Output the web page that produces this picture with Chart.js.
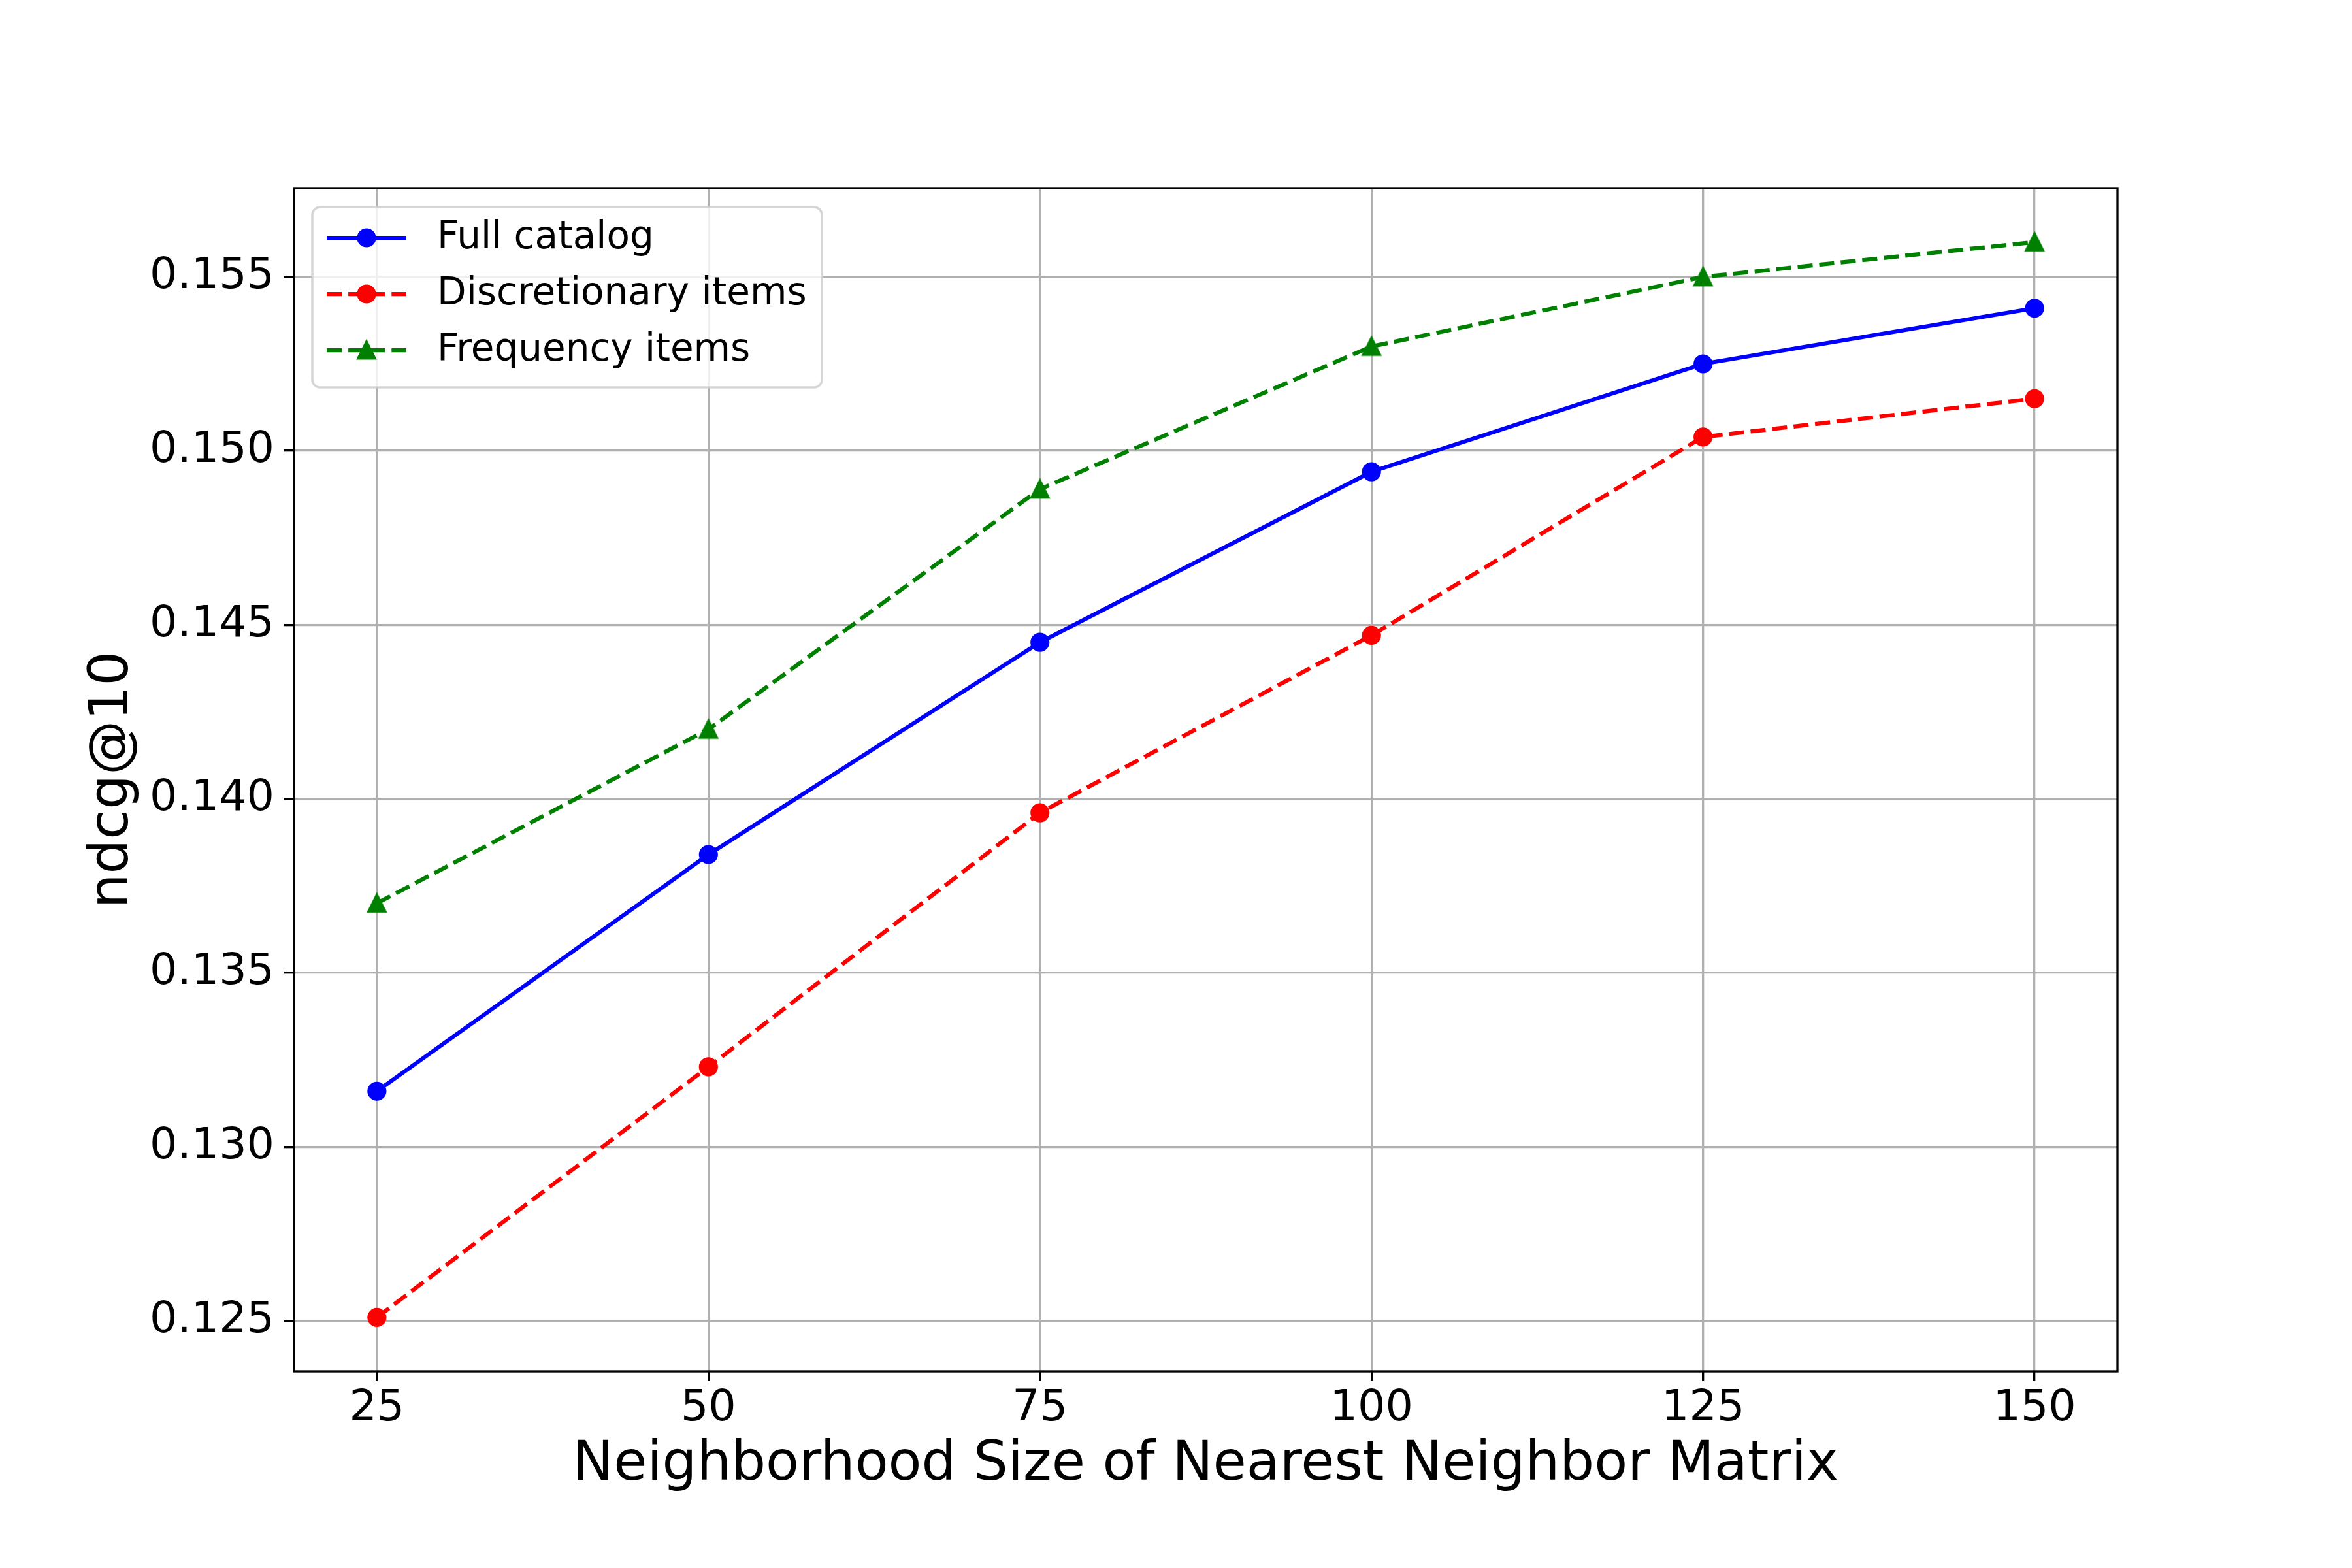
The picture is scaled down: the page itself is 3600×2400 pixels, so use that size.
<!DOCTYPE html>
<html>
<head>
<meta charset="utf-8">
<script src="https://cdn.jsdelivr.net/npm/chart.js@4"></script>
<style>
  html, body { margin: 0; padding: 0; background: #fff; }
  canvas { display: block; }
</style>
</head>
<body>
<canvas id="ndcg-chart" width="3600" height="2400"></canvas>
<script>
const sizes = [25, 50, 75, 100, 125, 150];
const fullCatalog = [0.1316, 0.1384, 0.1445, 0.1494, 0.1525, 0.1541];
const discretionary = [0.1251, 0.1323, 0.1396, 0.1447, 0.1504, 0.1515];
const frequency = [0.1370, 0.1420, 0.1489, 0.1530, 0.1550, 0.1560];
const seriesLabels = ['Full catalog', 'Discretionary items', 'Frequency items'];
const xTicks = [25, 50, 75, 100, 125, 150];
const yTicks = [0.125, 0.130, 0.135, 0.140, 0.145, 0.150, 0.155];

const FONT = 'DejaVu Sans';
const LW = 6.25;          // 1.5pt at 300 dpi
const THIN = 3.33;        // 0.8pt
const DASH = [23.1, 10];  // matplotlib '--' scaled by linewidth

const toPoints = (ys) => sizes.map((x, i) => ({x: x, y: ys[i]}));

// matplotlib style '^' marker, drawn once on a small canvas
const makeTriangle = (color) => {
    const c = document.createElement('canvas');
    c.width = 40;
    c.height = 40;
    const g = c.getContext('2d');
    g.fillStyle = color;
    g.strokeStyle = color;
    g.lineWidth = 4.17;
    g.lineJoin = 'miter';
    g.beginPath();
    g.moveTo(20, 7.5);
    g.lineTo(7.5, 32.5);
    g.lineTo(32.5, 32.5);
    g.closePath();
    g.fill();
    g.stroke();
    return c;
};

const greenTriangle = makeTriangle('#008000');

const series = (label, ys, color, dash, pointStyle, order) => ({
    label: label,
    data: toPoints(ys),
    borderColor: color,
    backgroundColor: color,
    borderWidth: LW,
    borderDash: dash,
    pointStyle: pointStyle,
    pointRadius: 12.5,
    pointBorderWidth: 4.17,
    pointBackgroundColor: color,
    pointBorderColor: color,
    tension: 0,
    fill: false,
    order: order
});

const spinesPlugin = {
    id: 'spines',
    afterDatasetsDraw(chart) {
        const {ctx, chartArea: a} = chart;
        ctx.save();
        ctx.strokeStyle = '#000';
        ctx.lineWidth = THIN;
        ctx.strokeRect(a.left, a.top, a.right - a.left, a.bottom - a.top);
        ctx.restore();
    }
};

const legendPlugin = {
    id: 'mplLegend',
    afterDraw(chart) {
        const ctx = chart.ctx;
        const a = chart.chartArea;
        const box = {x: a.left + 28, y: a.top + 29, w: 780, h: 276};
        ctx.save();
        ctx.globalAlpha = 0.8;
        ctx.fillStyle = '#ffffff';
        ctx.strokeStyle = '#cccccc';
        ctx.lineWidth = 3.5;
        ctx.beginPath();
        ctx.roundRect(box.x, box.y, box.w, box.h, 12);
        ctx.fill();
        ctx.stroke();
        ctx.globalAlpha = 1;

        chart.data.datasets.forEach((ds, i) => {
            const cy = box.y + 47 + i * 86;
            const x0 = box.x + 22;
            const x1 = x0 + 122;
            ctx.strokeStyle = ds.borderColor;
            ctx.lineWidth = ds.borderWidth;
            ctx.setLineDash(ds.borderDash || []);
            ctx.beginPath();
            ctx.moveTo(x0, cy);
            ctx.lineTo(x1, cy);
            ctx.stroke();
            ctx.setLineDash([]);
            const mx = (x0 + x1) / 2;
            if (ds.pointStyle === 'circle') {
                ctx.fillStyle = ds.borderColor;
                ctx.beginPath();
                ctx.arc(mx, cy, ds.pointRadius + ds.pointBorderWidth / 2, 0, Math.PI * 2);
                ctx.fill();
            } else {
                const img = ds.pointStyle;
                ctx.drawImage(img, mx - img.width / 2, cy - img.height / 2);
            }
            ctx.fillStyle = '#000';
            ctx.font = '58px "' + FONT + '"';
            ctx.textAlign = 'left';
            ctx.textBaseline = 'middle';
            ctx.fillText(ds.label, x1 + 47, cy + 1);
        });
        ctx.restore();
    }
};

const config = {
    type: 'line',
    data: {
        datasets: [
            series(seriesLabels[0], fullCatalog, '#0000ff', [], 'circle', 2),
            series(seriesLabels[1], discretionary, '#ff0000', DASH, 'circle', 1),
            series(seriesLabels[2], frequency, '#008000', DASH, greenTriangle, 0)
        ]
    },
    options: {
        responsive: false,
        animation: false,
        devicePixelRatio: 1,
        layout: {
            padding: {left: 0, top: 288, right: 359, bottom: 0}
        },
        plugins: {
            legend: {display: false},
            tooltip: {enabled: false}
        },
        scales: {
            x: {
                type: 'linear',
                min: 18.75,
                max: 156.25,
                afterBuildTicks: (scale) => {
                    scale.ticks = xTicks.map(v => ({value: v}));
                },
                afterFit: (scale) => {
                    scale.height = 301;
                },
                grid: {
                    color: '#b0b0b0',
                    lineWidth: THIN,
                    drawTicks: true,
                    tickLength: 15,
                    tickColor: '#000',
                    tickWidth: THIN
                },
                border: {display: false},
                ticks: {
                    color: '#000',
                    padding: 9,
                    maxRotation: 0,
                    autoSkip: false,
                    font: {family: FONT, size: 66.7, lineHeight: 1},
                    callback: (v) => String(v)
                },
                title: {
                    display: true,
                    text: 'Neighborhood Size of Nearest Neighbor Matrix',
                    color: '#000',
                    font: {family: FONT, size: 83.3, lineHeight: 1},
                    padding: {top: 0, bottom: 115}
                }
            },
            y: {
                type: 'linear',
                min: 0.12355,
                max: 0.15755,
                afterBuildTicks: (scale) => {
                    scale.ticks = yTicks.map(v => ({value: v}));
                },
                afterFit: (scale) => {
                    scale.width = 450;
                },
                grid: {
                    color: '#b0b0b0',
                    lineWidth: THIN,
                    drawTicks: true,
                    tickLength: 15,
                    tickColor: '#000',
                    tickWidth: THIN
                },
                border: {display: false},
                ticks: {
                    color: '#000',
                    padding: 15,
                    autoSkip: false,
                    font: {family: FONT, size: 66.7, lineHeight: 1},
                    callback: (v) => v.toFixed(3)
                },
                title: {
                    display: true,
                    text: 'ndcg@10',
                    color: '#000',
                    font: {family: FONT, size: 83.3, lineHeight: 1},
                    padding: {top: 132, bottom: 0}
                }
            }
        }
    },
    plugins: [spinesPlugin, legendPlugin]
};

const ndcgChart = new Chart(document.getElementById('ndcg-chart').getContext('2d'), config);
</script>
</body>
</html>
